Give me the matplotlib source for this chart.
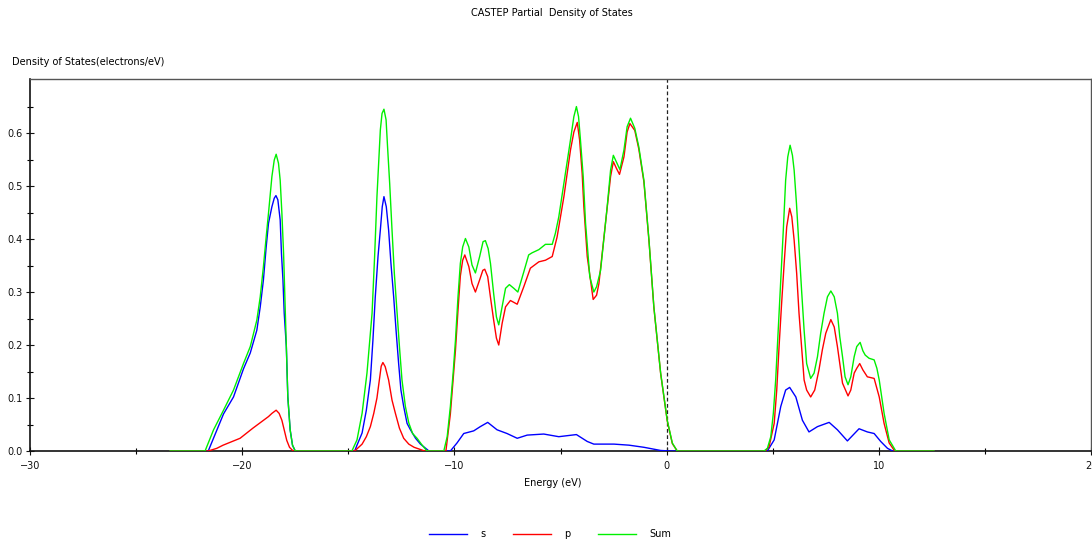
import matplotlib
matplotlib.use("Agg")
import matplotlib.pyplot as plt
from matplotlib.ticker import FormatStrFormatter
from matplotlib.lines import Line2D

plt.rcParams['font.family'] = ['DejaVu Sans']

title = "CASTEP Partial  Density of States"
ylabel = "Density of States(electrons/eV)"
xlabel = "Energy (eV)"
series_names = ["s", "p", "Sum"]
series_colors = ["#0000ff", "#ff0000", "#00f000"]
y_ticks = [0.0, 0.1, 0.2, 0.3, 0.4, 0.5, 0.6]
y_minor = [0.05, 0.15, 0.25, 0.35, 0.45, 0.55, 0.65]
x_ticks = [-30, -20, -10, 0, 10, 20]
x_minor = [-25, -15, -5, 5, 15]

E_s = [-23.4, -21.6, -20.88, -20.41, -19.94, -19.62, -19.31, -19.15, -19.00, -18.87, -18.76, -18.60,
       -18.49, -18.41, -18.32, -18.21, -18.15, -18.08, -18.02, -17.92, -17.85, -17.74, -17.63, -17.5,
       -14.7, -14.59, -14.35, -14.15, -13.96, -13.84, -13.73, -13.60, -13.49, -13.40, -13.32, -13.21,
       -13.10, -12.99, -12.86, -12.75, -12.63, -12.52, -12.39, -12.23, -12.07, -11.83, -11.6, -11.2,
       -10.19, -9.88, -9.56, -9.09, -8.78, -8.43, -7.99, -7.52, -7.04, -6.57, -5.79, -5.08, -4.25, -3.74,
       -3.43, -2.48, -1.77, -1.07, -0.28, 0.2,
       4.75, 5.07, 5.38, 5.61, 5.80, 6.09, 6.40, 6.71, 7.11, 7.66, 8.05, 8.52, 9.07, 9.46, 9.78, 10.09,
       10.41, 10.65, 12.6]
s = [0, 0, 0.07, 0.102, 0.155, 0.185, 0.228, 0.272, 0.323, 0.385, 0.43, 0.461,
     0.477, 0.482, 0.474, 0.436, 0.373, 0.323, 0.26, 0.197, 0.102, 0.04, 0.011, 0,
     0, 0.011, 0.034, 0.077, 0.134, 0.209, 0.29, 0.367, 0.417, 0.461, 0.48, 0.461,
     0.417, 0.354, 0.29, 0.228, 0.166, 0.115, 0.084, 0.052, 0.04, 0.024, 0.013, 0,
     0, 0.015, 0.033, 0.038, 0.046, 0.054, 0.04, 0.033, 0.024, 0.03, 0.032, 0.027, 0.031, 0.018,
     0.013, 0.013, 0.011, 0.007, 0.001, 0,
     0, 0.021, 0.084, 0.115, 0.12, 0.102, 0.058, 0.036, 0.046, 0.054, 0.04, 0.019, 0.042, 0.036, 0.033,
     0.018, 0.005, 0, 0]

E_p = [-23.4, -21.6, -21.2, -20.9, -20.1, -19.5, -18.76, -18.60, -18.40, -18.26, -18.13, -18.02,
       -17.90, -17.77, -17.6,
       -14.7, -14.59, -14.35, -14.15, -13.96, -13.80, -13.65, -13.52, -13.45, -13.37, -13.26, -13.10,
       -12.94, -12.78, -12.59, -12.39, -12.15, -11.9, -11.4,
       -10.40, -10.19, -9.95, -9.83, -9.72, -9.61, -9.51, -9.32, -9.17, -9.01, -8.81, -8.66, -8.57,
       -8.43, -8.30, -8.15, -8.02, -7.91, -7.75, -7.59, -7.36, -7.04, -6.73, -6.42, -6.02, -5.71,
       -5.39, -5.16, -4.84, -4.53, -4.37, -4.21, -4.10, -3.98, -3.90, -3.74, -3.46, -3.30, -3.19,
       -2.88, -2.64, -2.51, -2.36, -2.22, -2.01, -1.86, -1.73, -1.50, -1.31, -1.07, -0.83, -0.60,
       -0.28, 0.03, 0.27, 0.50,
       4.65, 4.83, 5.07, 5.19, 5.30, 5.41, 5.54, 5.66, 5.80, 5.90, 6.01, 6.13, 6.24, 6.36, 6.48,
       6.60, 6.79, 6.98, 7.18, 7.34, 7.50, 7.74, 7.90, 8.05, 8.16, 8.29, 8.41, 8.55, 8.68, 8.84,
       8.96, 9.10, 9.25, 9.46, 9.78, 10.02, 10.25, 10.49, 10.75, 12.6]
p = [0, 0, 0.005, 0.011, 0.024, 0.043, 0.065, 0.071, 0.077, 0.071, 0.058, 0.04,
     0.02, 0.007, 0,
     0, 0.004, 0.013, 0.027, 0.046, 0.071, 0.10, 0.14, 0.16, 0.167, 0.159, 0.134,
     0.096, 0.071, 0.043, 0.024, 0.013, 0.007, 0,
     0, 0.07, 0.19, 0.266, 0.33, 0.36, 0.37, 0.348, 0.316, 0.30, 0.323, 0.341, 0.343,
     0.329, 0.29, 0.247, 0.213, 0.20, 0.241, 0.272, 0.284, 0.277, 0.31, 0.345, 0.357, 0.36,
     0.367, 0.404, 0.48, 0.568, 0.602, 0.62, 0.587, 0.524, 0.461, 0.367, 0.286, 0.294, 0.316,
     0.43, 0.518, 0.546, 0.533, 0.522, 0.555, 0.602, 0.618, 0.605, 0.570, 0.508, 0.396, 0.271,
     0.146, 0.057, 0.014, 0,
     0, 0.008, 0.052, 0.115, 0.197, 0.272, 0.354, 0.423, 0.458, 0.442, 0.398, 0.335, 0.26, 0.197, 0.134,
     0.115, 0.102, 0.115, 0.153, 0.191, 0.222, 0.248, 0.234, 0.197, 0.165, 0.128, 0.117, 0.104, 0.115, 0.147,
     0.156, 0.165, 0.153, 0.14, 0.137, 0.102, 0.052, 0.015, 0, 0]

E_sum = [-23.4, -21.75, -21.35, -20.88, -20.41, -19.94, -19.62, -19.31, -19.15, -19.00, -18.87, -18.76,
         -18.60, -18.49, -18.40, -18.29, -18.21, -18.13, -18.05, -17.99, -17.92, -17.85, -17.74, -17.63, -17.50,
         -14.83, -14.59, -14.35, -14.12, -13.88, -13.76, -13.65, -13.57, -13.49, -13.41, -13.32, -13.22,
         -13.15, -13.05, -12.94, -12.83, -12.70, -12.59, -12.47, -12.31, -12.15, -11.97, -11.76, -11.52, -11.29,
         -10.50, -10.34, -10.19, -10.06, -9.95, -9.83, -9.72, -9.61, -9.48, -9.32, -9.17, -9.01, -8.81,
         -8.65, -8.54, -8.41, -8.30, -8.15, -8.02, -7.91, -7.75, -7.59, -7.41, -7.20, -7.01, -6.73, -6.50,
         -6.34, -6.02, -5.71, -5.39, -5.24, -5.08, -4.84, -4.53, -4.37, -4.25, -4.15, -4.06, -3.93, -3.82,
         -3.62, -3.43, -3.30, -3.11, -2.80, -2.64, -2.51, -2.36, -2.20, -2.01, -1.86, -1.70, -1.50, -1.31,
         -1.07, -0.83, -0.60, -0.28, 0.03, 0.27, 0.50,
         4.59, 4.75, 4.91, 5.03, 5.14, 5.26, 5.38, 5.50, 5.61, 5.71, 5.82, 5.93, 6.01, 6.12, 6.24, 6.36,
         6.48, 6.60, 6.79, 6.95, 7.11, 7.26, 7.42, 7.58, 7.74, 7.90, 8.05, 8.16, 8.29, 8.41, 8.55, 8.68,
         8.84, 8.96, 9.12, 9.25, 9.36, 9.54, 9.78, 9.91, 10.02, 10.25, 10.49, 10.80, 12.6]
total = [0, 0, 0.04, 0.077, 0.115, 0.165, 0.197, 0.247, 0.291, 0.348, 0.404, 0.449,
         0.518, 0.549, 0.560, 0.543, 0.511, 0.449, 0.373, 0.291, 0.197, 0.102, 0.04, 0.011, 0,
         0, 0.021, 0.071, 0.147, 0.26, 0.367, 0.48, 0.543, 0.606, 0.637, 0.645, 0.625,
         0.574, 0.505, 0.417, 0.335, 0.26, 0.197, 0.134, 0.084, 0.053, 0.033, 0.024, 0.011, 0,
         0, 0.027, 0.084, 0.147, 0.209, 0.291, 0.354, 0.385, 0.401, 0.385, 0.351, 0.336, 0.367,
         0.395, 0.397, 0.382, 0.354, 0.297, 0.253, 0.238, 0.272, 0.307, 0.314, 0.307, 0.30, 0.338, 0.37,
         0.374, 0.38, 0.39, 0.39, 0.411, 0.442, 0.505, 0.587, 0.631, 0.65, 0.631, 0.587, 0.518, 0.43,
         0.329, 0.30, 0.31, 0.341, 0.461, 0.53, 0.558, 0.545, 0.531, 0.568, 0.612, 0.628, 0.609, 0.574,
         0.511, 0.398, 0.272, 0.147, 0.058, 0.015, 0,
         0, 0.005, 0.027, 0.071, 0.134, 0.228, 0.323, 0.417, 0.511, 0.555, 0.577, 0.558, 0.53, 0.467, 0.386, 0.304,
         0.228, 0.165, 0.137, 0.147, 0.178, 0.222, 0.26, 0.291, 0.302, 0.291, 0.26, 0.216, 0.178, 0.14, 0.125, 0.14,
         0.178, 0.197, 0.205, 0.189, 0.181, 0.175, 0.172, 0.156, 0.134, 0.071, 0.021, 0, 0]

fig = plt.figure(figsize=(10.92, 5.42), dpi=100)
ax = fig.add_axes([30/1092, 91/542, 1061/1092, 372/542])

lw = 1.0
ax.plot(E_s, s, color=series_colors[0], lw=lw, zorder=3, solid_joinstyle='round')
ax.plot(E_p, p, color=series_colors[1], lw=lw, zorder=3, solid_joinstyle='round')
ax.plot(E_sum, total, color=series_colors[2], lw=lw, zorder=3, solid_joinstyle='round')
ax.axvline(0, color="#222222", lw=0.9, ls=(0, (3, 2)), zorder=2)

ax.set_xlim(-30, 20)
ax.set_ylim(0, 0.702)
ax.set_xticks(x_ticks)
ax.set_xticks(x_minor, minor=True)
ax.set_yticks(y_ticks)
ax.set_yticks(y_minor, minor=True)
ax.yaxis.set_major_formatter(FormatStrFormatter('%.1f'))
ax.tick_params(axis='both', which='major', direction='inout', length=6, width=0.8,
               labelsize=7, colors='#111111', pad=2)
ax.tick_params(axis='both', which='minor', direction='inout', length=5, width=0.8)
ax.tick_params(axis='x', pad=4)
for side in ['left', 'bottom']:
    ax.spines[side].set_color('#111111')
    ax.spines[side].set_linewidth(1.2)
for side in ['top', 'right']:
    ax.spines[side].set_color('#555555')
    ax.spines[side].set_linewidth(1.0)

fig.text(552/1092, 1 - 13/542, title, ha='center', va='center', fontsize=7)
fig.text(12/1092, 1 - 62/542, ylabel, ha='left', va='center', fontsize=7)
fig.text(553/1092, 1 - 483/542, xlabel, ha='center', va='center', fontsize=7)

handles = [Line2D([], [], color=c, lw=1.0) for c in series_colors]
fig.legend(handles, series_names, loc='center', bbox_to_anchor=(550/1092, 1 - 534/542),
           ncol=3, frameon=False, fontsize=7, handlelength=3.9, columnspacing=2.8,
           handletextpad=1.4)

fig.savefig("out.png", dpi=100)
